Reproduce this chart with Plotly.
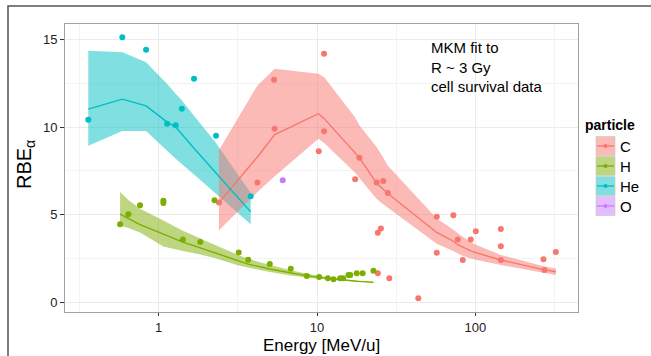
import plotly.graph_objects as go

# ---------------- data ----------------
particles = ["C", "H", "He", "O"]
colors = {"C": "#F8766D", "H": "#7CAE00", "He": "#00BFC4", "O": "#C77CFF"}
fills = {"C": "rgba(248,118,109,0.5)", "H": "rgba(124,174,0,0.5)",
         "He": "rgba(0,191,196,0.5)", "O": "rgba(199,124,255,0.5)"}

# measured points
c_x = [2.40, 4.20, 5.35, 5.39, 10.25, 11.07, 11.07, 17.4, 18.5, 23.8, 26.2, 28.0,
       24.2, 25.3, 24.2, 28.6, 43.6, 57.0, 72.6, 77.4, 57.0, 83.2, 93.5, 100.6,
       144.7, 144.7, 144.7, 269, 273, 322]
c_y = [5.70, 6.84, 12.69, 9.91, 8.62, 14.17, 9.76, 7.03, 8.26, 6.84, 6.93, 6.25,
       3.98, 4.23, 1.67, 1.39, 0.25, 4.89, 4.98, 3.60, 2.84, 2.43, 3.60, 4.07,
       4.19, 3.22, 2.43, 2.48, 1.86, 2.88]

h_x = [0.57, 0.643, 0.762, 1.07, 1.07, 1.42, 1.83, 2.25, 3.20, 3.67, 5.03, 6.82,
       8.61, 10.3, 11.7, 12.7, 14.0, 14.6, 15.8, 16.2, 17.8, 19.4, 22.7]
h_y = [4.47, 5.04, 5.55, 5.80, 5.68, 3.60, 3.45, 5.84, 2.86, 2.44, 2.20, 1.93,
       1.52, 1.46, 1.39, 1.34, 1.39, 1.39, 1.57, 1.57, 1.67, 1.67, 1.82]

he_x = [0.359, 0.589, 0.832, 1.13, 1.28, 1.40, 1.67, 2.30, 3.81]
he_y = [10.42, 15.11, 14.40, 10.19, 10.11, 11.05, 12.75, 9.51, 6.06]

o_x = [6.07]
o_y = [6.97]

# model fit (line) and band
c_mx = [2.40, 4.20, 5.40, 10.2, 11.1, 17.4, 18.5, 23.8, 26.2, 28.0, 57.0, 72.6,
        77.4, 83.2, 93.5, 100.6, 144.7, 269, 322]
c_fit = [5.70, 8.30, 9.57, 10.76, 10.48, 8.55, 8.26, 6.80, 6.45, 6.22, 4.00, 3.50,
         3.30, 3.15, 2.95, 2.85, 2.43, 1.88, 1.76]
c_hi = [8.68, 12.37, 13.32, 13.03, 12.84, 10.55, 10.10, 8.85, 8.25, 7.80, 4.80, 4.15,
        3.95, 3.75, 3.45, 3.30, 2.72, 2.08, 1.95]
c_lo = [4.13, 6.30, 7.20, 9.34, 9.10, 7.40, 7.10, 5.90, 5.60, 5.40, 3.35, 2.95,
        2.80, 2.68, 2.52, 2.45, 2.15, 1.70, 1.57]

h_mx = [0.57, 0.643, 0.762, 1.07, 1.42, 1.83, 2.25, 3.20, 3.67, 5.03, 6.82, 8.61,
        10.3, 11.7, 12.7, 14.0, 15.8, 17.8, 19.4, 22.7]
h_fit = [5.04, 4.80, 4.45, 3.90, 3.45, 3.12, 2.85, 2.35, 2.20, 1.92, 1.68, 1.53,
         1.44, 1.38, 1.34, 1.30, 1.26, 1.22, 1.20, 1.16]
h_hi = [6.31, 5.85, 5.35, 4.68, 4.10, 3.65, 3.30, 2.70, 2.50, 2.15, 1.85, 1.65,
        1.53, 1.45, 1.40, 1.35, 1.30, 1.25, 1.22, 1.18]
h_lo = [4.40, 4.25, 4.00, 3.20, 2.95, 2.75, 2.55, 2.12, 2.00, 1.75, 1.55, 1.43,
        1.36, 1.32, 1.29, 1.26, 1.23, 1.20, 1.18, 1.14]

he_mx = [0.359, 0.589, 0.832, 1.13, 1.28, 1.40, 1.67, 2.30, 3.81]
he_fit = [11.02, 11.59, 11.21, 10.28, 10.00, 9.57, 8.79, 7.38, 5.17]
he_hi = [14.34, 14.26, 13.69, 12.46, 11.90, 11.51, 10.64, 9.10, 6.25]
he_lo = [8.94, 9.77, 9.77, 8.65, 8.20, 7.90, 7.30, 6.20, 4.47]

x_tickvals = [1, 10, 100]
x_ticktext = ["1", "10", "100"]
x_minor = [0.316, 3.16, 31.6, 316]
y_tickvals = [0, 5, 10, 15]
y_minor = [2.5, 7.5, 12.5]

FONT = "Liberation Sans, Arial, sans-serif"

fig = go.Figure()

# ribbons
for p, mx, hi, lo in [("He", he_mx, he_hi, he_lo), ("C", c_mx, c_hi, c_lo), ("H", h_mx, h_hi, h_lo)]:
    fig.add_trace(go.Scatter(x=list(mx) + list(mx)[::-1], y=list(hi) + list(lo)[::-1],
                             fill="toself", fillcolor=fills[p], mode="none",
                             hoverinfo="skip", showlegend=False))
# fit lines
for p, mx, fit in [("C", c_mx, c_fit), ("H", h_mx, h_fit), ("He", he_mx, he_fit)]:
    fig.add_trace(go.Scatter(x=mx, y=fit, mode="lines", line=dict(color=colors[p], width=1.4),
                             showlegend=False))
# points
for p, xs, ys in [("C", c_x, c_y), ("H", h_x, h_y), ("He", he_x, he_y), ("O", o_x, o_y)]:
    fig.add_trace(go.Scatter(x=xs, y=ys, mode="markers", name=p,
                             marker=dict(color=colors[p], size=6), showlegend=False))

# geometry of panel in pixels
L, R, T, B = 65, 578, 24, 312
W, H = 651, 356
def px(x):
    return (x - L) / (R - L)
def py(y):
    return (B - y) / (B - T)

shapes = []
annotations = []
# outer frame of the screenshot
shapes.append(dict(type="path", xref="paper", yref="paper",
                   path=f"M {px(8)} {py(400)} L {px(8)} {py(6)} L {px(700)} {py(6)}",
                   line=dict(color="#555555", width=1.5)))

# manual legend
annotations.append(dict(text="<b>particle</b>", x=px(583), y=py(125), xref="paper", yref="paper",
                        xanchor="left", yanchor="middle", showarrow=False,
                        font=dict(family=FONT, size=14, color="#000")))
key_y = [146, 166, 186, 206]
for p, yc in zip(particles, key_y):
    shapes.append(dict(type="rect", xref="paper", yref="paper",
                       x0=px(596), x1=px(615), y0=py(yc - 9.5), y1=py(yc + 9.5),
                       fillcolor=fills[p], line=dict(color="rgba(200,200,200,0.8)", width=0.8)))
    shapes.append(dict(type="line", xref="paper", yref="paper",
                       x0=px(597), x1=px(614), y0=py(yc), y1=py(yc),
                       line=dict(color=colors[p], width=1.3)))
    shapes.append(dict(type="circle", xref="paper", yref="paper",
                       x0=px(603.5), x1=px(607.5), y0=py(yc - 2), y1=py(yc + 2),
                       fillcolor=colors[p], line=dict(color=colors[p], width=0)))
    annotations.append(dict(text=p, x=px(618), y=py(yc), xref="paper", yref="paper",
                            xanchor="left", yanchor="middle", showarrow=False,
                            font=dict(family=FONT, size=15, color="#000")))

# text inside panel
annotations.append(dict(text="MKM fit to<br>R ~ 3 Gy<br>cell survival data",
                        x=px(429), y=py(37), xref="paper", yref="paper",
                        xanchor="left", yanchor="top", align="left", showarrow=False,
                        font=dict(family=FONT, size=15, color="#000")))
# axis titles
annotations.append(dict(text="RBE<sub>α</sub>", x=px(25), y=py(165), xref="paper", yref="paper",
                        textangle=-90, xanchor="center", yanchor="middle", showarrow=False,
                        font=dict(family=FONT, size=20, color="#000")))
annotations.append(dict(text="Energy [MeV/u]", x=px(321.5), y=py(345), xref="paper", yref="paper",
                        xanchor="center", yanchor="middle", showarrow=False,
                        font=dict(family=FONT, size=17, color="#000")))

fig.update_layout(
    width=W, height=H,
    margin=dict(l=L, r=W - R, t=T, b=H - B),
    paper_bgcolor="white", plot_bgcolor="white",
    shapes=shapes, annotations=annotations,
    showlegend=False,
    font=dict(family=FONT),
)
fig.update_xaxes(type="log", range=[-0.592, 2.648],
                 tickvals=x_tickvals, ticktext=x_ticktext,
                 ticks="outside", ticklen=3, tickcolor="#333", tickwidth=1,
                 tickfont=dict(family=FONT, size=13, color="#222"),
                 showgrid=True, gridcolor="#EBEBEB", gridwidth=1.2,
                 minor=dict(tickvals=x_minor, showgrid=True, gridcolor="#F3F3F3", gridwidth=0.8, ticks=""),
                 showline=True, mirror=True, linecolor="#A0A0A0", linewidth=1,
                 zeroline=False)
fig.update_yaxes(range=[-0.53, 15.87],
                 tickvals=y_tickvals,
                 ticks="outside", ticklen=4, tickcolor="#333", tickwidth=1,
                 tickfont=dict(family=FONT, size=13, color="#222"),
                 showgrid=True, gridcolor="#EBEBEB", gridwidth=1.2,
                 minor=dict(tickvals=y_minor, showgrid=True, gridcolor="#F3F3F3", gridwidth=0.8, ticks=""),
                 showline=True, mirror=True, linecolor="#A0A0A0", linewidth=1,
                 zeroline=False)

fig.write_html("out.html")
